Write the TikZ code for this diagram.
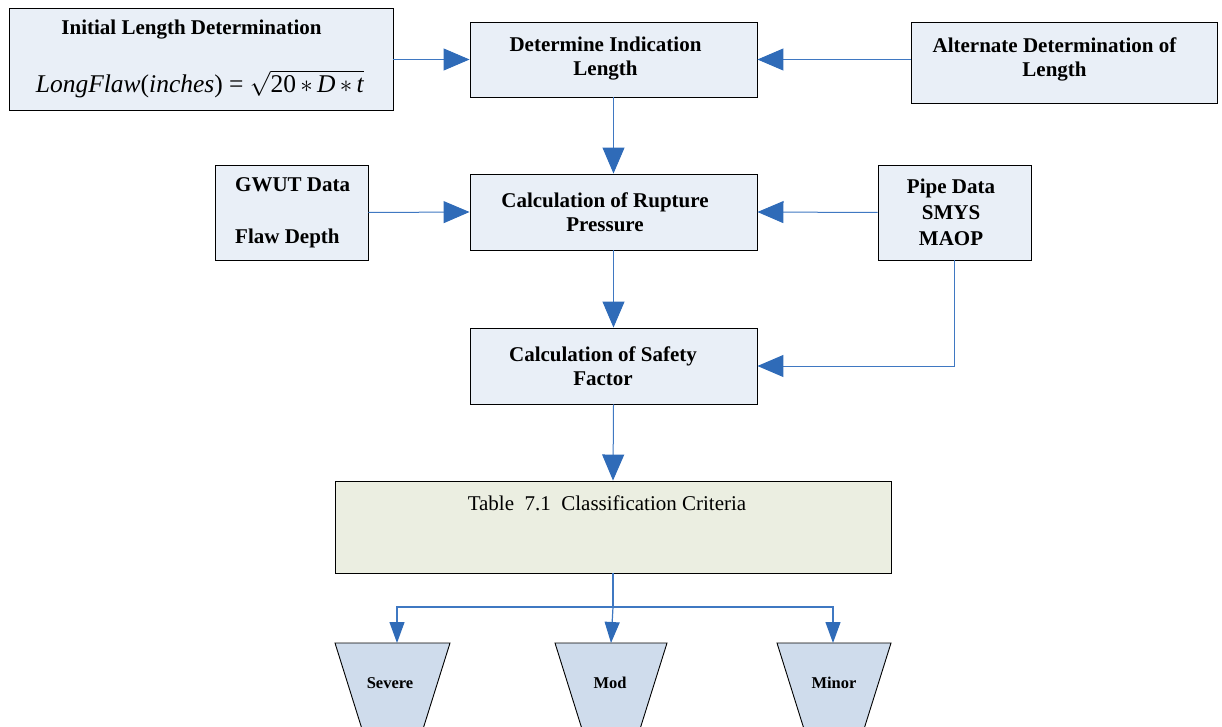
\documentclass[tikz,border=0pt]{standalone}
\usepackage{fontspec}
\setmainfont{Liberation Serif}
\usetikzlibrary{arrows.meta}
\definecolor{boxfill}{HTML}{E9EFF7}
\definecolor{trapfill}{HTML}{CFDCEC}
\definecolor{tabfill}{HTML}{EBEEE1}
\definecolor{conn}{HTML}{3F78C2}
\definecolor{head}{HTML}{2F6BB8}
\tikzset{
  box/.style={draw=black, line width=0.9pt, fill=boxfill, inner sep=0pt},
  lbl/.style={font=\fontsize{21}{24}\selectfont\bfseries, align=center, inner sep=0pt},
  big/.style={draw=conn, line width=1pt, -{Triangle[length=26pt,width=22pt,color=head]}},
  small/.style={draw=conn, line width=1.2pt, -{Triangle[length=21pt,width=15pt,color=head]}},
  trap/.style={draw=black, line width=0.9pt, fill=trapfill},
  traplbl/.style={font=\fontsize{16.5}{18}\selectfont\bfseries, inner sep=0pt},
}
\begin{document}
\begin{tikzpicture}[x=1pt,y=-1pt]
\useasboundingbox (0,0) rectangle (1222,727);
\clip (0,0) rectangle (1222,727);
% boxes
\node[box, minimum width=384pt, minimum height=102pt] (init) at (201,59) {};
\node[lbl] (initt) at (191.5,30) {Initial Length Determination};
\node[font=\fontsize{25.5}{28}\selectfont, inner sep=0pt] (initf) at (200,84) {\textit{LongFlaw}(\textit{inches}) = $\sqrt{\mbox{\fontsize{25.5}{28}\selectfont 20\,$*$\,\textit{D}\,$*$\,\textit{t}}}$};
\node[box, minimum width=287pt, minimum height=75pt] (det) at (613.5,59.5) {};
\node[lbl] (dett) at (605.5,59) {Determine Indication\\Length};
\node[box, minimum width=306pt, minimum height=81pt] (alt) at (1064,62.5) {};
\node[lbl] (altt) at (1054.5,59) {Alternate Determination of\\Length};
\node[box, minimum width=153pt, minimum height=95pt] (gwut) at (291.5,212.5) {};
\node[lbl, align=left, anchor=west, font=\fontsize{21}{26}\selectfont\bfseries] (gwutt) at (235,213) {GWUT Data\\\strut\\Flaw Depth};
\node[box, minimum width=287pt, minimum height=76pt] (rup) at (613.5,212) {};
\node[lbl] (rupt) at (605,212) {Calculation of Rupture\\Pressure};
\node[box, minimum width=153pt, minimum height=95pt] (pipe) at (954.5,212.5) {};
\node[lbl, font=\fontsize{21}{26}\selectfont\bfseries] (pipet) at (951,212) {Pipe Data\\SMYS\\MAOP};
\node[box, minimum width=287pt, minimum height=76pt] (saf) at (613.5,366) {};
\node[lbl] (saft) at (603,366) {Calculation of Safety\\Factor};
\node[box, fill=tabfill, minimum width=556pt, minimum height=92pt] (tab) at (613,527) {};
\node[font=\fontsize{21}{24}\selectfont, inner sep=0pt] (tabt) at (607,503) {Table\ \ 7.1\ \ Classification Criteria};
% trapezoids
\path[trap] (335,643) -- (450,643) -- (418,745) -- (367,745) -- cycle;
\path[trap] (555,643) -- (667,643) -- (635,745) -- (587,745) -- cycle;
\path[trap] (777,643) -- (891,643) -- (859,745) -- (809,745) -- cycle;
\coordinate (sevtop) at (397,643);
\coordinate (modtop) at (611,643);
\coordinate (mintop) at (833,643);
\node[traplbl] (sev) at (390,683) {Severe};
\node[traplbl] (mod) at (610,683) {Mod};
\node[traplbl] (min) at (834,683) {Minor};
% connectors
\draw[big] (init.east |- det.west) -- (det.west);
\draw[big] (alt.west |- det.east) -- (det.east);
\draw[big] (det.south) -- (rup.north);
\draw[big] (gwut.east) -- (rup.west);
\draw[big] (pipe.west) -- (rup.east);
\draw[big] (rup.south) -- (saf.north);
\draw[big] (pipe.south) |- (saf.east);
\draw[big] (saf.south) -- (tab.north);
\coordinate (split) at (613,607);
\draw[small] (tab.south) -- (split) -| (sevtop);
\draw[small] (split) -| (mintop);
\draw[small] (tab.south) -- (split) -- (modtop);
\end{tikzpicture}
\end{document}
